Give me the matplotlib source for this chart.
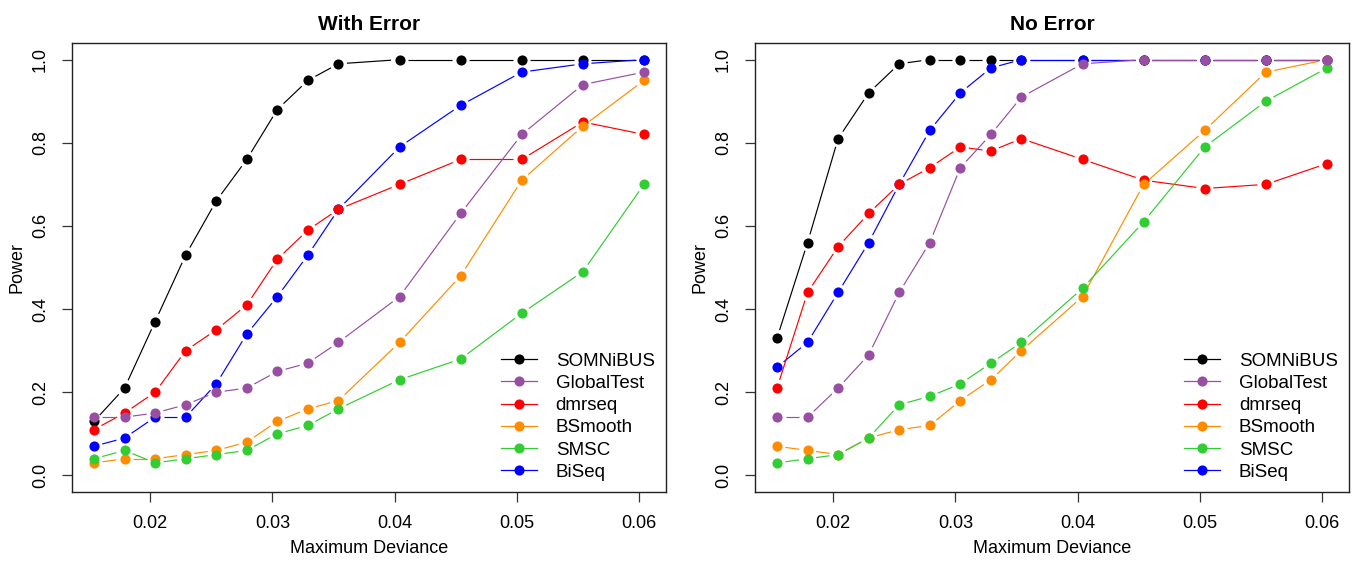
import numpy as np
import matplotlib
matplotlib.use("Agg")
import matplotlib.pyplot as plt
from matplotlib.lines import Line2D

plt.rcParams['font.family'] = ['Liberation Sans', 'DejaVu Sans']

x_dev = [0.0154, 0.0179, 0.0204, 0.0229, 0.0254, 0.0279, 0.0304, 0.0329,
         0.0354, 0.0404, 0.0454, 0.0504, 0.0554, 0.0604]

methods = ["SOMNiBUS", "GlobalTest", "dmrseq", "BSmooth", "SMSC", "BiSeq"]
colors = {"SOMNiBUS": "#000000", "GlobalTest": "#984EA3", "dmrseq": "#FF0000",
          "BSmooth": "#FF8C00", "SMSC": "#32CD32", "BiSeq": "#0000FF"}

# With Error
we_somnibus = [0.13, 0.21, 0.37, 0.53, 0.66, 0.76, 0.88, 0.95, 0.99, 1.00, 1.00, 1.00, 1.00, 1.00]
we_globaltest = [0.14, 0.14, 0.15, 0.17, 0.20, 0.21, 0.25, 0.27, 0.32, 0.43, 0.63, 0.82, 0.94, 0.97]
we_dmrseq = [0.11, 0.15, 0.20, 0.30, 0.35, 0.41, 0.52, 0.59, 0.64, 0.70, 0.76, 0.76, 0.85, 0.82]
we_bsmooth = [0.03, 0.04, 0.04, 0.05, 0.06, 0.08, 0.13, 0.16, 0.18, 0.32, 0.48, 0.71, 0.84, 0.95]
we_smsc = [0.04, 0.06, 0.03, 0.04, 0.05, 0.06, 0.10, 0.12, 0.16, 0.23, 0.28, 0.39, 0.49, 0.70]
we_biseq = [0.07, 0.09, 0.14, 0.14, 0.22, 0.34, 0.43, 0.53, 0.64, 0.79, 0.89, 0.97, 0.99, 1.00]

# No Error
ne_somnibus = [0.33, 0.56, 0.81, 0.92, 0.99, 1.00, 1.00, 1.00, 1.00, 1.00, 1.00, 1.00, 1.00, 1.00]
ne_globaltest = [0.14, 0.14, 0.21, 0.29, 0.44, 0.56, 0.74, 0.82, 0.91, 0.99, 1.00, 1.00, 1.00, 1.00]
ne_dmrseq = [0.21, 0.44, 0.55, 0.63, 0.70, 0.74, 0.79, 0.78, 0.81, 0.76, 0.71, 0.69, 0.70, 0.75]
ne_bsmooth = [0.07, 0.06, 0.05, 0.09, 0.11, 0.12, 0.18, 0.23, 0.30, 0.43, 0.70, 0.83, 0.97, 1.00]
ne_smsc = [0.03, 0.04, 0.05, 0.09, 0.17, 0.19, 0.22, 0.27, 0.32, 0.45, 0.61, 0.79, 0.90, 0.98]
ne_biseq = [0.26, 0.32, 0.44, 0.56, 0.70, 0.83, 0.92, 0.98, 1.00, 1.00, 1.00, 1.00, 1.00, 1.00]

with_error = {"SOMNiBUS": we_somnibus, "GlobalTest": we_globaltest, "dmrseq": we_dmrseq,
              "BSmooth": we_bsmooth, "SMSC": we_smsc, "BiSeq": we_biseq}
no_error = {"SOMNiBUS": ne_somnibus, "GlobalTest": ne_globaltest, "dmrseq": ne_dmrseq,
            "BSmooth": ne_bsmooth, "SMSC": ne_smsc, "BiSeq": ne_biseq}

draw_order = ["SOMNiBUS", "BiSeq", "dmrseq", "BSmooth", "SMSC", "GlobalTest"]

W, H = 1356, 561
fig = plt.figure(figsize=(W / 100, H / 100), dpi=100)

GAP = 8.5  # pixels gap between line and point centre (R type="b")


def gapped_line(ax, xs, ys, color):
    pts = ax.transData.transform(np.column_stack([xs, ys]))
    inv = ax.transData.inverted()
    for i in range(len(pts) - 1):
        p0, p1 = pts[i], pts[i + 1]
        d = p1 - p0
        L = np.hypot(*d)
        if L <= 2 * GAP:
            continue
        u = d / L
        a = inv.transform(p0 + u * GAP)
        b = inv.transform(p1 - u * GAP)
        ax.plot([a[0], b[0]], [a[1], b[1]], color=color, lw=0.85,
                solid_capstyle='butt', zorder=2)


def panel(rect, title, data):
    ax = fig.add_axes(rect)
    xr = max(x_dev) - min(x_dev)
    ax.set_xlim(min(x_dev) - 0.04 * xr, max(x_dev) + 0.04 * xr)
    ax.set_ylim(-0.04, 1.04)
    for k, m in enumerate(draw_order):
        ys = data[m]
        gapped_line(ax, x_dev, ys, colors[m])
        ax.plot(x_dev, ys, ls='none', marker='o', ms=7.3, mec='none',
                mfc=colors[m], zorder=3 + k)
    ax.set_xticks([0.02, 0.03, 0.04, 0.05, 0.06])
    ax.set_xticklabels(["0.02", "0.03", "0.04", "0.05", "0.06"])
    ax.set_yticks([0.0, 0.2, 0.4, 0.6, 0.8, 1.0])
    ax.set_yticklabels(["0.0", "0.2", "0.4", "0.6", "0.8", "1.0"],
                       rotation=90, va='center')
    ax.tick_params(axis='both', direction='out', length=7.5, width=0.9,
                   labelsize=13, color='#333333')
    ax.tick_params(axis='x', pad=9)
    ax.tick_params(axis='y', pad=9)
    for s in ax.spines.values():
        s.set_linewidth(1.0)
        s.set_color('#222222')
    ax.set_title(title, fontsize=15, fontweight='bold', pad=9)
    ax.set_xlabel("Maximum Deviance", fontsize=13, labelpad=6)
    ax.set_ylabel("Power", fontsize=13, labelpad=5)
    handles = [Line2D([], [], color=colors[m], lw=0.9, marker='o', ms=7.3,
                      mec='none', mfc=colors[m]) for m in methods]
    ax.legend(handles, methods, loc='lower right', frameon=False,
              fontsize=13.5, handlelength=1.9, handletextpad=1.0,
              labelspacing=0.27, borderaxespad=0.2, borderpad=0.4)
    return ax


ax_h = (492 - 43) / H
ax_b = 1 - 492 / H
panel([72 / W, ax_b, 594 / W, ax_h], "With Error", with_error)
panel([755 / W, ax_b, 594 / W, ax_h], "No Error", no_error)

fig.savefig("out.png", dpi=100)
